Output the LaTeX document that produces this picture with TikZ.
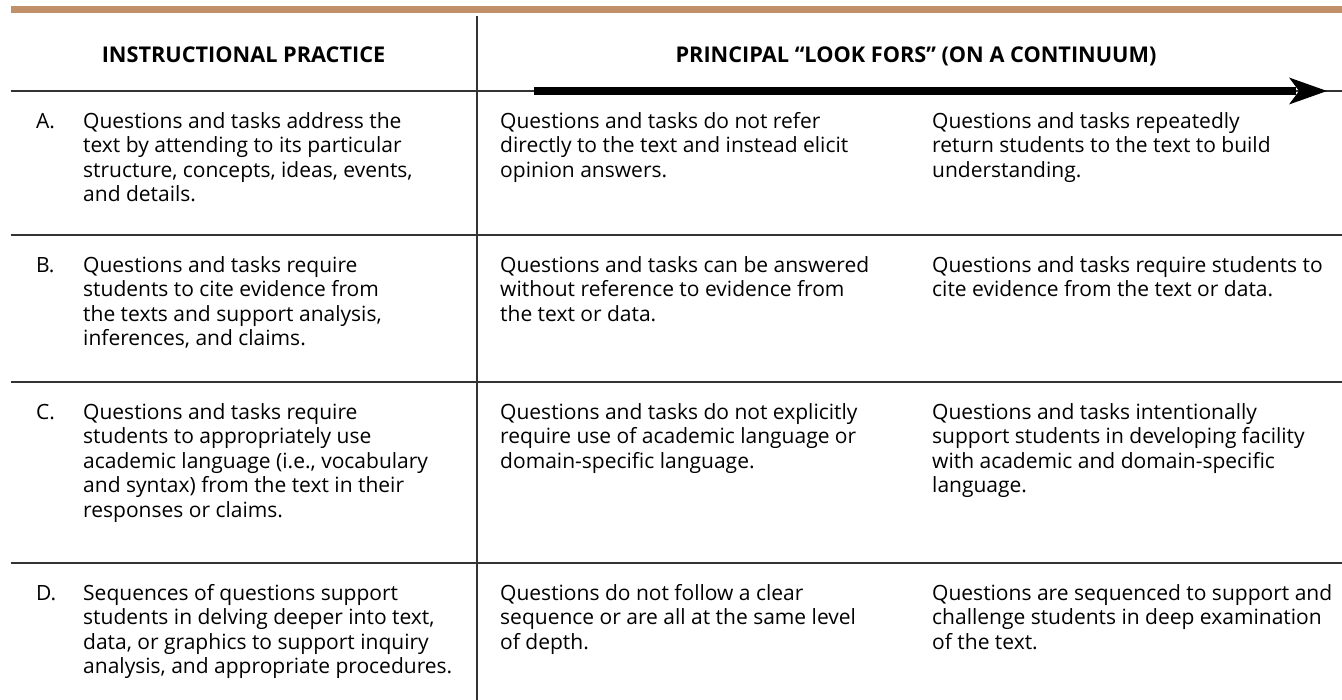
\documentclass[tikz,border=0pt]{standalone}
\usepackage{fontspec}
\setmainfont{Open Sans}
\begin{document}
\begin{tikzpicture}[x=1pt,y=-1pt,
  cell/.style={anchor=north west,inner sep=0pt,align=left,font=\fontsize{21}{24.5}\selectfont},
  letter/.style={anchor=north west,inner sep=0pt,font=\fontsize{21}{24.5}\selectfont},
  head/.style={anchor=base,inner sep=0pt,font=\fontsize{21.7}{24}\selectfont\bfseries},
  rule/.style={line width=2pt,draw=black!80},
  bar/.style={fill=topbar,draw=none}]
\definecolor{topbar}{RGB}{192,145,105}
\useasboundingbox (0,0) rectangle (1342,700);
% top bar
\fill[bar] (10.7,5.7) rectangle (1342,13.3);
% rules
\draw[rule] (10.7,91) -- (1342,91);
\draw[rule] (10.7,235) -- (1342,235);
\draw[rule] (10.7,382) -- (1342,382);
\draw[rule] (10.7,563) -- (1342,563);
\draw[rule] (477,16) -- (477,700);
% continuum arrow
\coordinate (arrS) at (534,91);
\coordinate (arrB) at (1296,91);
\coordinate (arrT) at (1327,91);
\draw[line width=8pt,black] (arrS) -- (arrB);
\fill[black] (arrT) -- (1289,77.5) -- (1299,91) -- (1289,104.5) -- cycle;
% headers
\node[head] (h1) at (243.5,62.3) {INSTRUCTIONAL PRACTICE};
\node[head] (h2) at (916,62.3) {PRINCIPAL “LOOK FORS” (ON A CONTINUUM)};
% row A (baseline 128)
\node[letter] (la) at (36,110.85) {\strut A.};
\node[cell] (a1) at (83,110.85) {\strut Questions and tasks address the\\text by attending to its particular\\structure, concepts, ideas, events,\\and details.};
\node[cell] (a2) at (500,110.85) {\strut Questions and tasks do not refer\\directly to the text and instead elicit\\opinion answers.};
\node[cell] (a3) at (932,110.85) {\strut Questions and tasks repeatedly\\return students to the text to build\\understanding.};
% row B (baseline 272)
\node[letter] (lb) at (36,254.85) {\strut B.};
\node[cell] (b1) at (83,254.85) {\strut Questions and tasks require\\students to cite evidence from\\the texts and support analysis,\\inferences, and claims.};
\node[cell] (b2) at (500,254.85) {\strut Questions and tasks can be answered\\without reference to evidence from\\the text or data.};
\node[cell] (b3) at (932,254.85) {\strut Questions and tasks require students to\\cite evidence from the text or data.};
% row C (baseline 419)
\node[letter] (lc) at (36,401.85) {\strut C.};
\node[cell] (c1) at (83,401.85) {\strut Questions and tasks require\\students to appropriately use\\academic language (i.e., vocabulary\\and syntax) from the text in their\\responses or claims.};
\node[cell] (c2) at (500,401.85) {\strut Questions and tasks do not explicitly\\require use of academic language or\\domain-specific language.};
\node[cell] (c3) at (932,401.85) {\strut Questions and tasks intentionally\\support students in developing facility\\with academic and domain-specific\\language.};
% row D (baseline 600)
\node[letter] (ld) at (36,582.85) {\strut D.};
\node[cell] (d1) at (83,582.85) {\strut Sequences of questions support\\students in delving deeper into text,\\data, or graphics to support inquiry\\analysis, and appropriate procedures.};
\node[cell] (d2) at (500,582.85) {\strut Questions do not follow a clear\\sequence or are all at the same level\\of depth.};
\node[cell] (d3) at (932,582.85) {\strut Questions are sequenced to support and\\challenge students in deep examination\\of the text.};
\end{tikzpicture}
\end{document}
